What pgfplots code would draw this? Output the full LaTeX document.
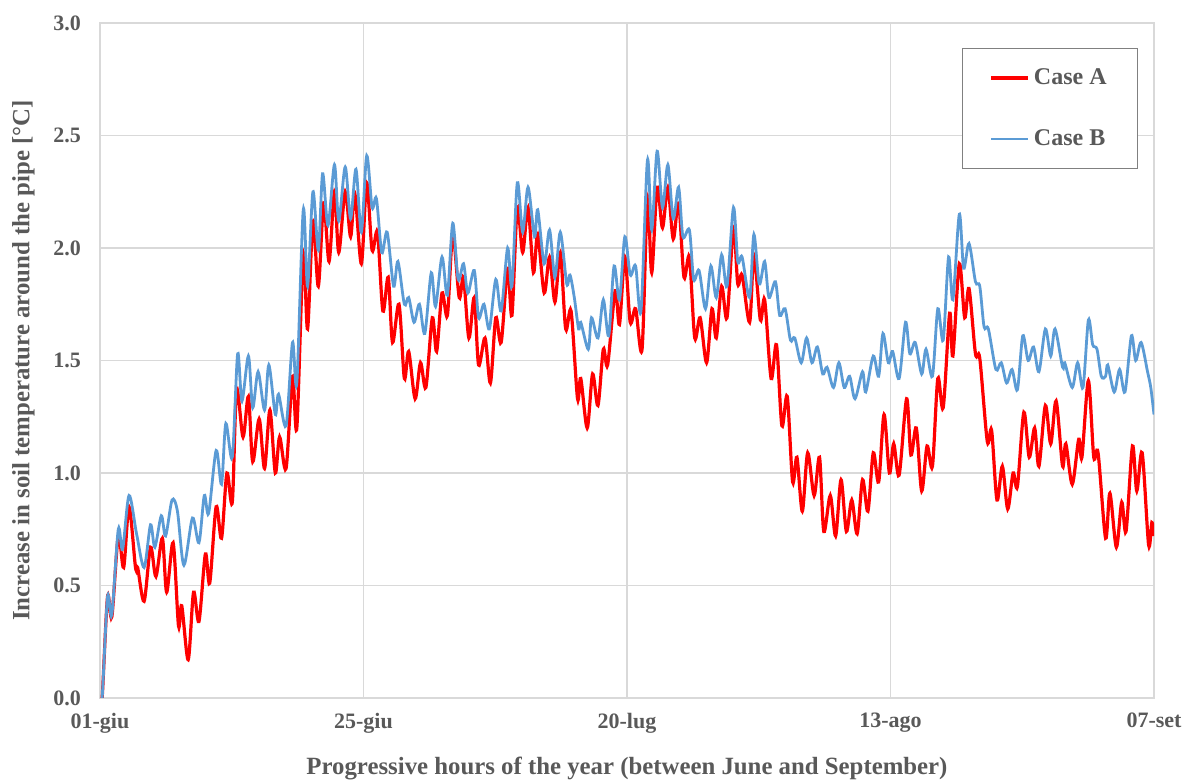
\documentclass[border=0pt]{standalone}
\usepackage{pgfplots}
\pgfplotsset{compat=1.18}
\usepackage{fontspec}
\setmainfont{Liberation Serif}
\definecolor{txtgray}{HTML}{595959}
\definecolor{gridgray}{HTML}{D9D9D9}
\definecolor{caseB}{HTML}{5B9BD5}
\begin{document}
\begin{tikzpicture}
\path[use as bounding box] (-50pt,-41pt) rectangle (541.5pt,349pt);
\begin{axis}[
  scale only axis, width=527pt, height=337.5pt,
  at={(0,0)}, anchor=south west,
  xmin=0, xmax=98, ymin=0, ymax=3,
  xtick={0,24.5,49,73.5,98},
  xticklabels={01-giu,25-giu,20-lug,13-ago,07-set},
  ytick={0,0.5,1,1.5,2,2.5,3},
  yticklabel style={xshift=-6pt, /pgf/number format/.cd,fixed,fixed zerofill,precision=1,assume math mode=true},
  xticklabel style={yshift=-4pt},
  ticklabel style={font=\bfseries\fontsize{11}{13}\selectfont, text=txtgray},
  major tick length=0pt,
  grid=major, grid style={gridgray, line width=0.6pt},
  axis line style={draw=gridgray, line width=0.6pt},
  xlabel={Progressive hours of the year (between June and September)},
  ylabel={Increase in soil temperature around the pipe [°C]},
  label style={font=\bfseries\fontsize{12.4}{14}\selectfont, text=txtgray},
  xlabel style={yshift=-5pt},
  ylabel style={yshift=2.5pt},
  legend style={at={(0.985,0.963)}, anchor=north east, draw=gray, line width=0.6pt,
    font=\bfseries\fontsize{12}{14}\selectfont, text=txtgray,
    inner xsep=13.5pt, inner ysep=8pt, row sep=17pt},
  legend cell align=left,
  legend image code/.code={\draw[#1] (0pt,0pt) -- (18.5pt,0pt);},
]
\addplot[red, line width=1.6pt, smooth, tension=0.5] coordinates {
(0,0) (0.2,0) (0.7,0.45) (1.1,0.36) (1.7,0.72) (2.2,0.58) (2.7,0.85) (3.3,0.58) (3.5,0.58) (4.1,0.43)
(4.7,0.67) (5.2,0.54) (5.8,0.71) (6.2,0.47) (6.8,0.69) (7.3,0.32) (7.6,0.41) (8.2,0.17) (8.7,0.47) (9.2,0.34)
(9.8,0.64) (10.2,0.51) (10.8,0.85) (11.3,0.71) (11.8,1.00) (12.3,0.87) (12.7,1.37) (13.3,1.16) (13.8,1.34) (14.2,1.05)
(14.8,1.24) (15.3,1.02) (15.8,1.28) (16.3,1.00) (16.7,1.16) (17.3,1.02) (17.9,1.43) (18.3,1.20) (18.9,1.97) (19.3,1.64)
(19.8,2.12) (20.3,1.83) (20.8,2.20) (21.3,1.94) (21.8,2.25) (22.2,1.98) (22.8,2.25) (23.3,2.05) (23.7,2.24) (24.3,1.93)
(24.8,2.29) (25.3,1.99) (25.8,2.07) (26.3,1.72) (26.8,1.87) (27.2,1.58) (27.8,1.75) (28.3,1.42) (28.7,1.54) (29.3,1.33)
(29.8,1.49) (30.3,1.38) (30.9,1.69) (31.3,1.54) (31.8,1.80) (32.3,1.70) (32.8,2.06) (33.4,1.78) (33.8,1.87) (34.3,1.60)
(34.8,1.78) (35.2,1.48) (35.8,1.60) (36.3,1.40) (36.8,1.69) (37.3,1.58) (37.9,1.91) (38.3,1.70) (38.8,2.18) (39.3,1.98)
(39.8,2.18) (40.3,1.89) (40.7,2.06) (41.3,1.80) (41.8,1.96) (42.3,1.76) (42.8,1.98) (43.3,1.64) (43.8,1.72) (44.4,1.33)
(44.7,1.42) (45.3,1.20) (45.8,1.44) (46.3,1.30) (46.8,1.55) (47.2,1.48) (47.9,1.81) (48.3,1.66) (48.8,1.96) (49.3,1.67)
(49.8,1.73) (50.4,1.55) (50.9,2.22) (51.3,1.89) (51.8,2.27) (52.3,2.09) (52.8,2.27) (53.3,2.04) (53.8,2.20) (54.3,1.87)
(54.8,1.96) (55.3,1.60) (55.8,1.69) (56.4,1.49) (56.9,1.73) (57.3,1.60) (57.8,1.83) (58.3,1.69) (58.9,2.09) (59.3,1.84)
(59.7,1.88) (60.4,1.67) (60.8,1.97) (61.4,1.68) (61.8,1.77) (62.4,1.42) (62.9,1.57) (63.4,1.21) (63.9,1.34) (64.4,0.96)
(64.8,1.07) (65.3,0.83) (65.8,1.09) (66.4,0.90) (66.9,1.07) (67.3,0.74) (67.9,0.90) (68.4,0.72) (68.9,0.97) (69.4,0.74)
(69.9,0.88) (70.4,0.73) (70.9,0.97) (71.4,0.83) (71.9,1.09) (72.4,0.96) (72.9,1.26) (73.4,1.00) (73.8,1.13) (74.3,0.99)
(75.0,1.33) (75.4,1.08) (75.9,1.20) (76.4,0.92) (76.9,1.12) (77.4,1.03) (77.9,1.42) (78.4,1.29) (79.0,1.71) (79.3,1.52)
(79.9,1.93) (80.4,1.69) (80.8,1.82) (81.4,1.53) (81.8,1.51) (82.5,1.14) (82.9,1.19) (83.4,0.88) (83.9,1.03) (84.4,0.84)
(84.9,1.00) (85.3,0.94) (85.9,1.27) (86.4,1.07) (86.9,1.20) (87.3,1.03) (87.9,1.30) (88.4,1.13) (88.9,1.32) (89.5,1.03)
(89.8,1.13) (90.4,0.95) (91.0,1.15) (91.3,1.07) (91.9,1.41) (92.4,1.07) (92.8,1.09) (93.5,0.71) (93.9,0.91) (94.5,0.67)
(95.0,0.87) (95.4,0.74) (96.0,1.12) (96.4,0.92) (96.9,1.09) (97.5,0.68) (97.8,0.78) (98.0,0.72)
};
\addlegendentry{Case A}
\addplot[caseB, line width=1.4pt, smooth, tension=0.5] coordinates {
(0,0) (0.2,0) (0.7,0.45) (1.1,0.37) (1.7,0.75) (2.1,0.66) (2.7,0.90) (3.4,0.73) (4.1,0.58) (4.7,0.77)
(5.1,0.67) (5.7,0.81) (6.1,0.72) (6.7,0.88) (7.2,0.83) (7.8,0.59) (8.6,0.80) (9.2,0.69) (9.7,0.90) (10.1,0.82)
(10.8,1.10) (11.3,0.95) (11.7,1.22) (12.3,1.07) (12.8,1.53) (13.2,1.32) (13.8,1.52) (14.2,1.29) (14.7,1.45) (15.3,1.28)
(15.7,1.48) (16.3,1.26) (16.6,1.35) (17.3,1.21) (17.9,1.58) (18.3,1.40) (18.9,2.17) (19.3,1.83) (19.8,2.25) (20.3,1.99)
(20.7,2.33) (21.2,2.10) (21.8,2.37) (22.2,2.12) (22.8,2.36) (23.3,2.13) (23.8,2.35) (24.3,2.07) (24.8,2.41) (25.3,2.18)
(25.7,2.22) (26.2,1.98) (26.7,2.07) (27.3,1.83) (27.7,1.94) (28.3,1.75) (28.7,1.78) (29.2,1.67) (29.7,1.75) (30.2,1.62)
(30.8,1.89) (31.2,1.74) (31.8,1.96) (32.3,1.79) (32.8,2.11) (33.3,1.86) (33.8,1.93) (34.2,1.80) (34.8,1.90) (35.2,1.69)
(35.7,1.75) (36.2,1.64) (36.8,1.86) (37.3,1.72) (37.9,2.00) (38.3,1.83) (38.8,2.29) (39.3,2.07) (39.8,2.27) (40.4,2.05)
(40.7,2.17) (41.3,1.93) (41.8,2.08) (42.3,1.87) (42.8,2.07) (43.4,1.84) (43.7,1.88) (44.1,1.78) (44.5,1.64) (44.7,1.67)
(45.4,1.55) (45.7,1.69) (46.3,1.60) (46.8,1.77) (47.3,1.61) (47.8,1.92) (48.3,1.77) (48.8,2.05) (49.3,1.88) (49.8,1.92)
(50.3,1.72) (50.9,2.39) (51.3,2.08) (51.8,2.43) (52.3,2.18) (52.8,2.37) (53.3,2.13) (53.8,2.27) (54.2,2.05) (54.8,2.08)
(55.2,1.86) (55.7,1.90) (56.3,1.73) (56.8,1.92) (57.3,1.78) (57.8,1.97) (58.3,1.83) (58.9,2.18) (59.3,1.94) (59.7,1.96)
(60.4,1.78) (60.8,2.06) (61.3,1.84) (61.8,1.94) (62.2,1.78) (62.8,1.85) (63.2,1.70) (63.7,1.73) (64.2,1.59) (64.6,1.60)
(65.2,1.49) (65.7,1.60) (66.2,1.49) (66.7,1.56) (67.2,1.44) (67.6,1.47) (68.2,1.38) (68.7,1.49) (69.2,1.38) (69.7,1.43)
(70.2,1.33) (70.9,1.45) (71.2,1.36) (71.9,1.52) (72.4,1.43) (72.8,1.62) (73.3,1.49) (73.7,1.54) (74.3,1.42) (74.9,1.67)
(75.3,1.53) (75.8,1.58) (76.4,1.44) (76.8,1.55) (77.4,1.43) (77.9,1.73) (78.4,1.59) (78.9,1.96) (79.3,1.77) (79.9,2.15)
(80.3,1.91) (80.8,2.02) (81.4,1.85) (81.8,1.83) (82.2,1.65) (82.6,1.64) (83.3,1.46) (83.8,1.49) (84.3,1.40) (84.8,1.46)
(85.3,1.37) (85.8,1.61) (86.3,1.50) (86.8,1.56) (87.3,1.45) (87.9,1.64) (88.4,1.52) (88.8,1.64) (89.5,1.47) (89.7,1.49)
(90.4,1.38) (90.9,1.49) (91.4,1.38) (91.9,1.68) (92.3,1.57) (92.7,1.55) (93.1,1.43) (93.5,1.43) (93.7,1.48) (94.3,1.36)
(94.8,1.46) (95.3,1.36) (95.9,1.61) (96.3,1.50) (96.8,1.58) (97.4,1.45) (97.7,1.38) (98.0,1.26)
};
\addlegendentry{Case B}
\end{axis}
\end{tikzpicture}
\end{document}
